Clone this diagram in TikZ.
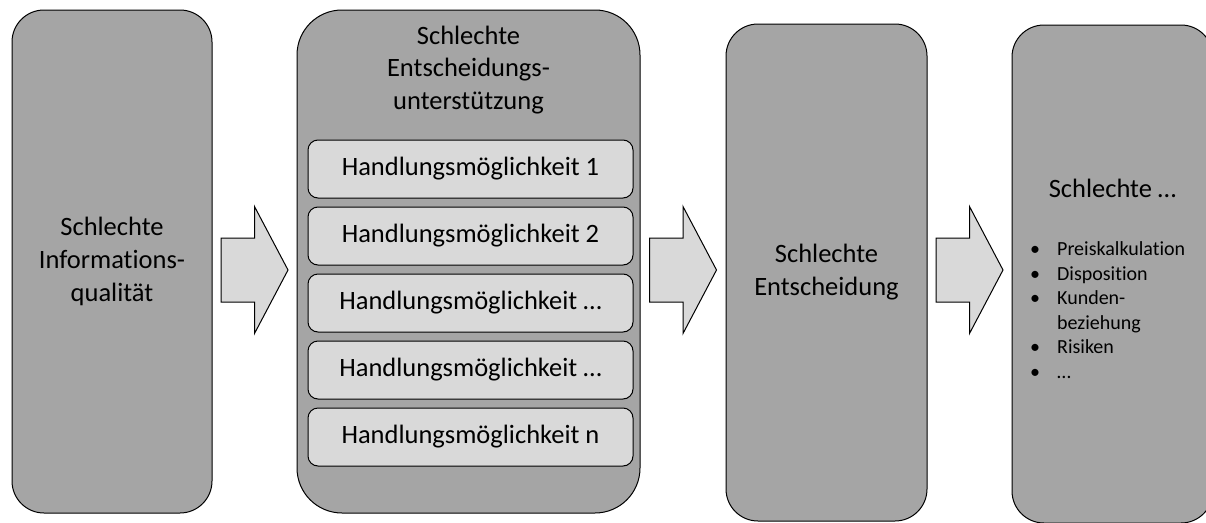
\documentclass[tikz,border=0pt]{standalone}
\usepackage{fontspec}
\setmainfont{Carlito}[Ligatures=NoCommon]
\usetikzlibrary{calc}
\definecolor{boxgray}{HTML}{A5A5A5}
\definecolor{panelgray}{HTML}{D9D9D9}
\begin{document}
\begin{tikzpicture}[x=1pt,y=-1pt,
  outline/.style={draw=black, line width=1pt},
  stagebox/.style={outline, fill=boxgray, inner sep=0pt, align=center,
    rounded corners=32pt, font=\fontsize{26.5}{33}\selectfont},
  optionbox/.style={outline, fill=panelgray, inner sep=0pt, rounded corners=10pt,
    minimum width=325pt, minimum height=58pt, font=\fontsize{26.5}{33}\selectfont},
  heading/.style={inner sep=0pt, align=center, font=\fontsize{26.5}{32.5}\selectfont},
  itemtext/.style={inner sep=0pt, font=\fontsize{20}{24.5}\selectfont},
  arrowbody/.style={outline, fill=panelgray, line join=miter},
  blockarrow/.pic={
    \draw[arrowbody] (-33.5,-32) -- (0,-32) -- (0,-63.5) -- (33.5,0)
      -- (0,63.5) -- (0,32) -- (-33.5,32) -- cycle;
  }]
\useasboundingbox (0,0) rectangle (1206,522);
\clip (0,0) rectangle (1206,522);

% the four stages
\node[stagebox, minimum width=200pt, minimum height=503pt] (info) at (112,261.5)
  {Schlechte\\Informations-\\qualität};
\node[stagebox, rounded corners=45pt, minimum width=343pt, minimum height=503pt]
  (support) at (468.5,261.5) {};
\node[stagebox, minimum width=201pt, minimum height=497pt] (decision) at (826.5,272.5)
  {Schlechte\\Entscheidung};
\node[stagebox, minimum width=201pt, minimum height=498pt] (result) at (1112.5,274) {};

% decision support: title and options
\node[heading] (supporttitle) at (468.5,70) {Schlechte\\Entscheidungs-\\unterstützung};
\node[optionbox] (opt1) at (470.5,169) {Handlungsmöglichkeit 1};
\node[optionbox] (opt2) at (470.5,236) {Handlungsmöglichkeit 2};
\node[optionbox] (opt3) at (470.5,303) {Handlungsmöglichkeit …};
\node[optionbox] (opt4) at (470.5,370) {Handlungsmöglichkeit …};
\node[optionbox] (opt5) at (470.5,437) {Handlungsmöglichkeit n};

% consequences
\node[heading, anchor=base] (resulttitle) at (1112.5,197) {Schlechte …};
\node[itemtext, anchor=north west] (resultlist) at (1030,238.5) {%
  \begin{tabular}{@{}l@{\hspace{17pt}}l@{}}
  • & Preiskalkulation\\
  • & Disposition\\
  • & Kunden-\\
    & beziehung\\
  • & Risiken\\
  • & …
  \end{tabular}};

% block arrows between the stages
\coordinate (arrowrow) at (0,270);
\coordinate (m1) at ($(info.east)!0.5!(support.west)$);
\coordinate (m2) at ($(support.east)!0.5!(decision.west)$);
\coordinate (m3) at ($(decision.east)!0.5!(result.west)$);
\pic at (m1 |- arrowrow) {blockarrow};
\pic at (m2 |- arrowrow) {blockarrow};
\pic at (m3 |- arrowrow) {blockarrow};
\end{tikzpicture}
\end{document}
